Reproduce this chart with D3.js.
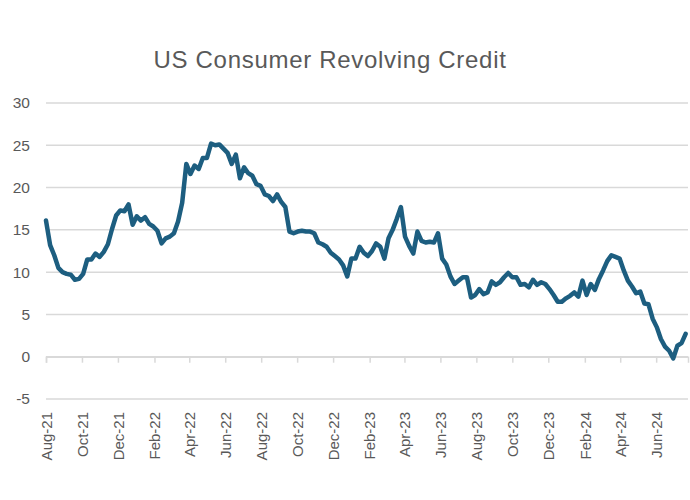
<!DOCTYPE html>
<html lang="en">
    <head>
        <meta charset="utf-8">
        <title>US Consumer Revolving Credit</title>
        <script type="text/javascript" src="https://cdn.jsdelivr.net/npm/d3@7/dist/d3.min.js"></script>
        <style>
            body { margin: 0; background: #fff; }
            text { font-family: "Liberation Sans", Arial, sans-serif; fill: #595959; }
        </style>
    </head>

    <body>
        <script type="text/javascript">

            // chart text
            var chart_title = "US Consumer Revolving Credit";

            // weekly series, first week starts Aug 1 2021
            var first_week = "2021-08-01";
            var week_values = [
                16.1, 13.2, 12.0, 10.5, 10.0, 9.8, 9.7, 9.1, 9.2, 9.8,
                11.5, 11.5, 12.2, 11.8, 12.4, 13.3, 15.1, 16.7, 17.3, 17.2,
                18.0, 15.6, 16.6, 16.1, 16.5, 15.7, 15.4, 14.9, 13.4, 14.0,
                14.2, 14.6, 16.0, 18.2, 22.8, 21.6, 22.6, 22.2, 23.5, 23.5,
                25.2, 25.0, 25.1, 24.6, 24.1, 22.8, 23.9, 21.1, 22.4, 21.7,
                21.4, 20.4, 20.2, 19.2, 19.0, 18.4, 19.2, 18.3, 17.7, 14.8,
                14.6, 14.8, 14.9, 14.8, 14.8, 14.6, 13.5, 13.3, 13.0, 12.3,
                11.9, 11.5, 10.8, 9.5, 11.6, 11.6, 13.0, 12.3, 11.9, 12.5,
                13.4, 13.0, 11.6, 14.0, 15.0, 16.3, 17.7, 14.2, 13.1, 12.2,
                14.8, 13.7, 13.5, 13.6, 13.5, 14.6, 11.6, 10.9, 9.5, 8.6,
                9.0, 9.4, 9.4, 7.0, 7.3, 8.0, 7.4, 7.6, 8.9, 8.5,
                8.8, 9.4, 9.9, 9.4, 9.4, 8.5, 8.6, 8.2, 9.1, 8.5,
                8.8, 8.6, 8.0, 7.3, 6.5, 6.5, 6.9, 7.2, 7.6, 7.1,
                9.0, 7.3, 8.6, 7.9, 9.2, 10.2, 11.3, 12.0, 11.8, 11.6,
                10.2, 9.0, 8.3, 7.5, 7.7, 6.3, 6.2, 4.5, 3.5, 2.1,
                1.2, 0.7, -0.2, 1.3, 1.6, 2.7
            ];

            // axis ticks
            var y_ticks = [-5, 0, 5, 10, 15, 20, 25, 30];
            var x_tick_labels = ["Aug-21", "Oct-21", "Dec-21", "Feb-22", "Apr-22", "Jun-22",
                                 "Aug-22", "Oct-22", "Dec-22", "Feb-23", "Apr-23", "Jun-23",
                                 "Aug-23", "Oct-23", "Dec-23", "Feb-24", "Apr-24", "Jun-24"];
            var x_end = "2024-07-25";

            var width = 690, height = 500;
            var plot_left = 46, plot_right = 688;
            var parse_day = d3.timeParse("%Y-%m-%d");
            var parse_month = d3.timeParse("%b-%y");

            // build the weekly dates
            var start_date = parse_day(first_week);
            var series = week_values.map(function(v, i) {
                return { date: d3.timeDay.offset(start_date, 7 * i), value: v };
            });

            var svg = d3.select("body")
                .append("svg")
                .attr("width", width)
                .attr("height", height);

            var x = d3.scaleTime()
                .domain([start_date, parse_day(x_end)])
                .range([plot_left, plot_right]);

            var y = d3.scaleLinear()
                .domain([-5, 30])
                .range([399, 103]);

            // title
            svg.append("text")
                .attr("x", 330)
                .attr("y", 68)
                .attr("text-anchor", "middle")
                .style("font-size", "24px")
                .style("letter-spacing", "0.7px")
                .text(chart_title);

            // horizontal gridlines
            svg.append("g")
                .selectAll("line")
                .data(y_ticks)
                .enter()
                .append("line")
                .attr("x1", plot_left)
                .attr("x2", plot_right)
                .attr("y1", function(d) { return y(d); })
                .attr("y2", function(d) { return y(d); })
                .attr("stroke", "#d9d9d9")
                .attr("stroke-width", 1.5);

            // y axis labels (plain hyphen for the minus, like the original)
            var y_axis = d3.axisLeft(y)
                .tickValues(y_ticks)
                .tickSize(0)
                .tickPadding(0)
                .tickFormat(function(d) { return String(d); });
            svg.append("g")
                .attr("transform", "translate(30,0)")
                .call(y_axis)
                .call(function(g) { g.select(".domain").remove(); })
                .selectAll("text")
                .style("font-size", "15.5px")
                .attr("fill", "#595959");

            // x axis sits on the zero line, labels at the bottom
            var x_ticks = x_tick_labels.map(function(s) { return parse_month(s); });
            var x_axis = d3.axisBottom(x)
                .tickValues(x_ticks)
                .tickSize(6)
                .tickFormat(function(d, i) { return x_tick_labels[i]; });
            var gx = svg.append("g")
                .attr("transform", "translate(0," + y(0) + ")")
                .call(x_axis);
            gx.select(".domain").attr("stroke", "#d9d9d9").attr("stroke-width", 1.5);
            gx.selectAll(".tick line").attr("stroke", "#d9d9d9").attr("stroke-width", 1.5);
            gx.selectAll(".tick text")
                .attr("fill", "#595959")
                .style("font-size", "15px")
                .attr("text-anchor", "end")
                .attr("transform", "translate(0," + (412 - y(0)) + ") rotate(-90)")
                .attr("x", 0)
                .attr("y", 0)
                .attr("dy", "0.35em");

            // the series line
            var line = d3.line()
                .x(function(d) { return x(d.date); })
                .y(function(d) { return y(d.value); });

            svg.append("path")
                .datum(series)
                .attr("fill", "none")
                .attr("stroke", "#1d5e80")
                .attr("stroke-width", 4.5)
                .attr("stroke-linejoin", "round")
                .attr("stroke-linecap", "round")
                .attr("d", line);
        </script>
    </body>
</html>
